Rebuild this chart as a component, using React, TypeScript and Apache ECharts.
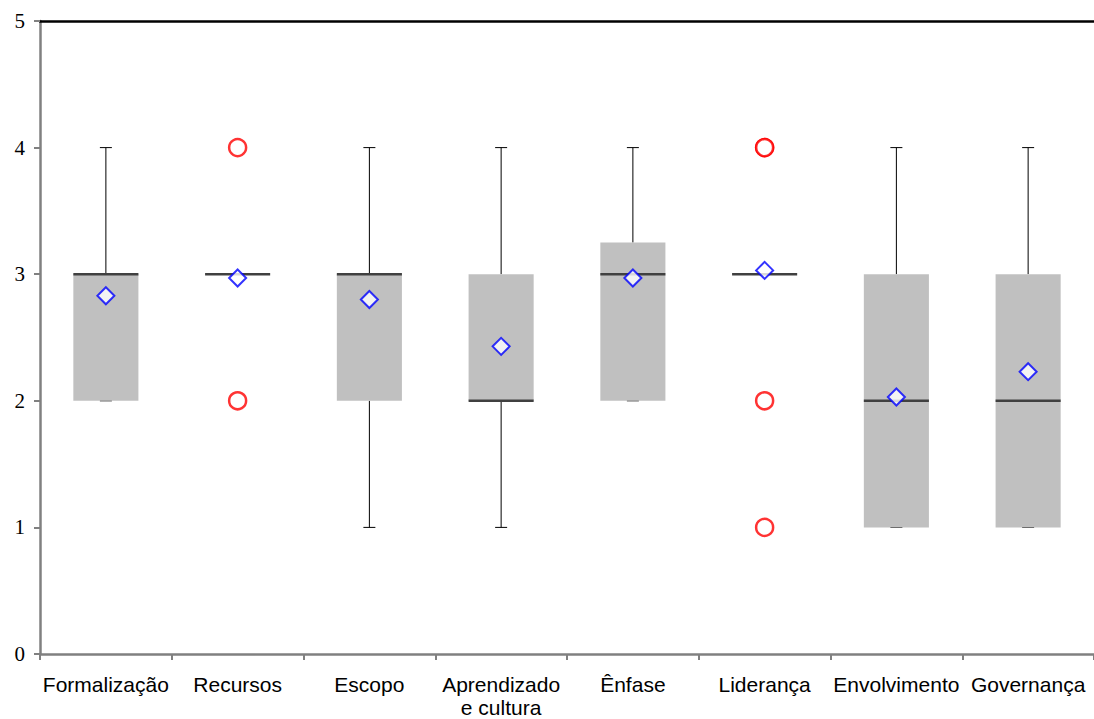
import React, { useEffect, useRef } from "react";
import * as echarts from "echarts";

const categories = ["Formalização", "Recursos", "Escopo", "Aprendizado\ne cultura", "Ênfase", "Liderança", "Envolvimento", "Governança"];
const whiskerLow = [2, 3, 1, 1, 2, 3, 1, 1];
const q1 = [2, 3, 2, 2, 2, 3, 1, 1];
const median = [3, 3, 3, 2, 3, 3, 2, 2];
const q3 = [3, 3, 3, 3, 3.25, 3, 3, 3];
const whiskerHigh = [4, 3, 4, 4, 4, 3, 4, 4];
const means = [2.83, 2.97, 2.8, 2.43, 2.97, 3.03, 2.03, 2.23];
const outliers: [number, number][] = [
  [1, 4], [1, 2],
  [5, 4], [5, 4], [5, 2], [5, 1],
];
const yTicks = [0, 1, 2, 3, 4, 5];

export default function App() {
  const ref = useRef<HTMLDivElement>(null);
  useEffect(() => {
    const chart = echarts.init(ref.current!, null, { renderer: "svg" });
    const boxData = categories.map((_, i) => [i, whiskerLow[i], q1[i], median[i], q3[i], whiskerHigh[i]]);
    chart.setOption({
      animation: false,
      grid: { left: 40, top: 21, width: 1058, height: 640 },
      xAxis: [
        {
          type: "category",
          data: categories,
          boundaryGap: true,
          axisLine: { lineStyle: { color: "#808080", width: 2.5 } },
          axisTick: { show: true, length: 6, lineStyle: { color: "#808080", width: 2 } },
          axisLabel: {
            color: "#000",
            fontFamily: "'Liberation Sans', Arial, sans-serif",
            fontSize: 21,
            margin: 19,
            lineHeight: 23,
            interval: 0,
          },
          splitLine: { show: false },
        },
        {
          type: "category",
          data: categories,
          position: "top",
          axisLine: { show: true, lineStyle: { color: "#000", width: 2.5 } },
          axisTick: { show: false },
          axisLabel: { show: false },
        },
      ],
      yAxis: {
        type: "value",
        min: yTicks[0],
        max: yTicks[yTicks.length - 1],
        interval: 1,
        axisLine: { show: true, lineStyle: { color: "#808080", width: 2.5 } },
        axisTick: { show: true, length: 6, lineStyle: { color: "#808080", width: 2 } },
        axisLabel: { color: "#000", fontFamily: "'Liberation Serif', 'Times New Roman', serif", fontSize: 21, margin: 15 },
        splitLine: { show: false },
      },
      series: [
        {
          type: "custom",
          data: boxData,
          encode: { x: 0, y: [1, 2, 3, 4, 5] },
          renderItem: (params: any, api: any) => {
            const idx = api.value(0);
            const band = api.size([1, 0])[0];
            const half = band * 0.247;
            const cap = 6;
            const pLow = api.coord([idx, api.value(1)]);
            const pQ1 = api.coord([idx, api.value(2)]);
            const pMed = api.coord([idx, api.value(3)]);
            const pQ3 = api.coord([idx, api.value(4)]);
            const pHigh = api.coord([idx, api.value(5)]);
            const x = pMed[0];
            const children: any[] = [];
            if (api.value(5) > api.value(4)) {
              children.push({ type: "line", shape: { x1: x, y1: pHigh[1], x2: x, y2: pQ3[1] }, style: { stroke: "#000", lineWidth: 1 } });
              children.push({ type: "line", shape: { x1: x - cap, y1: pHigh[1], x2: x + cap, y2: pHigh[1] }, style: { stroke: "#000", lineWidth: 1 } });
            }
            if (api.value(1) < api.value(2)) {
              children.push({ type: "line", shape: { x1: x, y1: pLow[1], x2: x, y2: pQ1[1] }, style: { stroke: "#000", lineWidth: 1 } });
            }
            if (api.value(1) < api.value(4)) {
              children.push({ type: "line", shape: { x1: x - cap, y1: pLow[1], x2: x + cap, y2: pLow[1] }, style: { stroke: "#000", lineWidth: 1 } });
            }
            children.push({
              type: "rect",
              shape: { x: x - half, y: pQ3[1], width: half * 2, height: pQ1[1] - pQ3[1] },
              style: { fill: "#C0C0C0", stroke: "none" },
            });
            children.push({
              type: "line",
              shape: { x1: x - half, y1: pMed[1], x2: x + half, y2: pMed[1] },
              style: { stroke: "#404040", lineWidth: 2.5 },
            });
            return { type: "group", children };
          },
          z: 2,
        },
        {
          type: "scatter",
          data: outliers,
          symbol: "circle",
          symbolSize: 17,
          itemStyle: { color: "#fff", borderColor: "#FF0000", borderWidth: 2.5 },
          z: 3,
        },
        {
          type: "scatter",
          data: means.map((m, i) => [i, m]),
          symbol: "diamond",
          symbolSize: [17, 17],
          itemStyle: { color: "#fff", borderColor: "#0000FF", borderWidth: 2 },
          z: 4,
        },
      ],
    });
    return () => chart.dispose();
  }, []);
  return <div ref={ref} style={{ position: "fixed", left: 0, top: 0, width: 1094, height: 719, background: "#fff" }} />;
}
